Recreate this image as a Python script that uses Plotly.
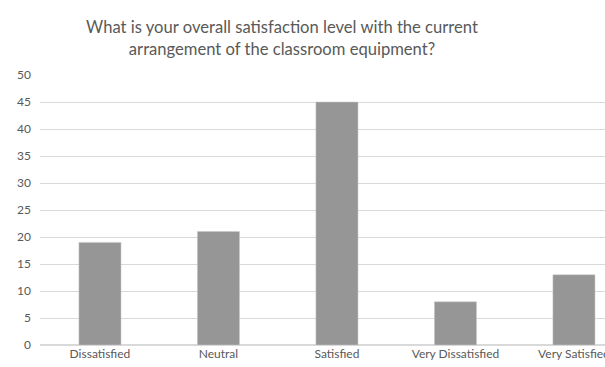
import plotly.graph_objects as go

categories = ["Dissatisfied", "Neutral", "Satisfied", "Very Dissatisfied", "Very Satisfied"]
values = [19, 21, 45, 8, 13]
y_ticks = [0, 5, 10, 15, 20, 25, 30, 35, 40, 45, 50]
title_text = "What is your overall satisfaction level with the current<br>arrangement of the classroom equipment?"

fig = go.Figure(go.Bar(
    x=categories, y=values,
    marker=dict(color="#969696", line=dict(color="#c8c8c8", width=0.5)),
))

fig.update_layout(
    width=605, height=367,
    margin=dict(l=40, r=0, t=75, b=22),
    paper_bgcolor="white", plot_bgcolor="white",
    bargap=0.645,
    showlegend=False,
    font=dict(family="Lato, Open Sans, sans-serif", color="#595959", size=12),
    title=dict(text=title_text, x=282/605, xanchor="center", xref="container",
               y=1 - 33/367, yanchor="middle", yref="container",
               font=dict(family="Lato, Open Sans, sans-serif", size=16.6, color="#595959")),
)
fig.update_xaxes(
    range=[-0.506, 4.262], showgrid=False, showline=False, ticks="", automargin=False,
    tickfont=dict(size=12, color="#595959"),
)
fig.update_yaxes(
    range=[0, 50], tickvals=y_ticks, showgrid=True, gridcolor="#d9d9d9", gridwidth=1,
    zeroline=True, zerolinecolor="#d9d9d9", showline=False, ticks="", automargin=False,
    tickfont=dict(size=12, color="#595959"), ticklabelstandoff=8,
)

fig.write_html("out.html")
